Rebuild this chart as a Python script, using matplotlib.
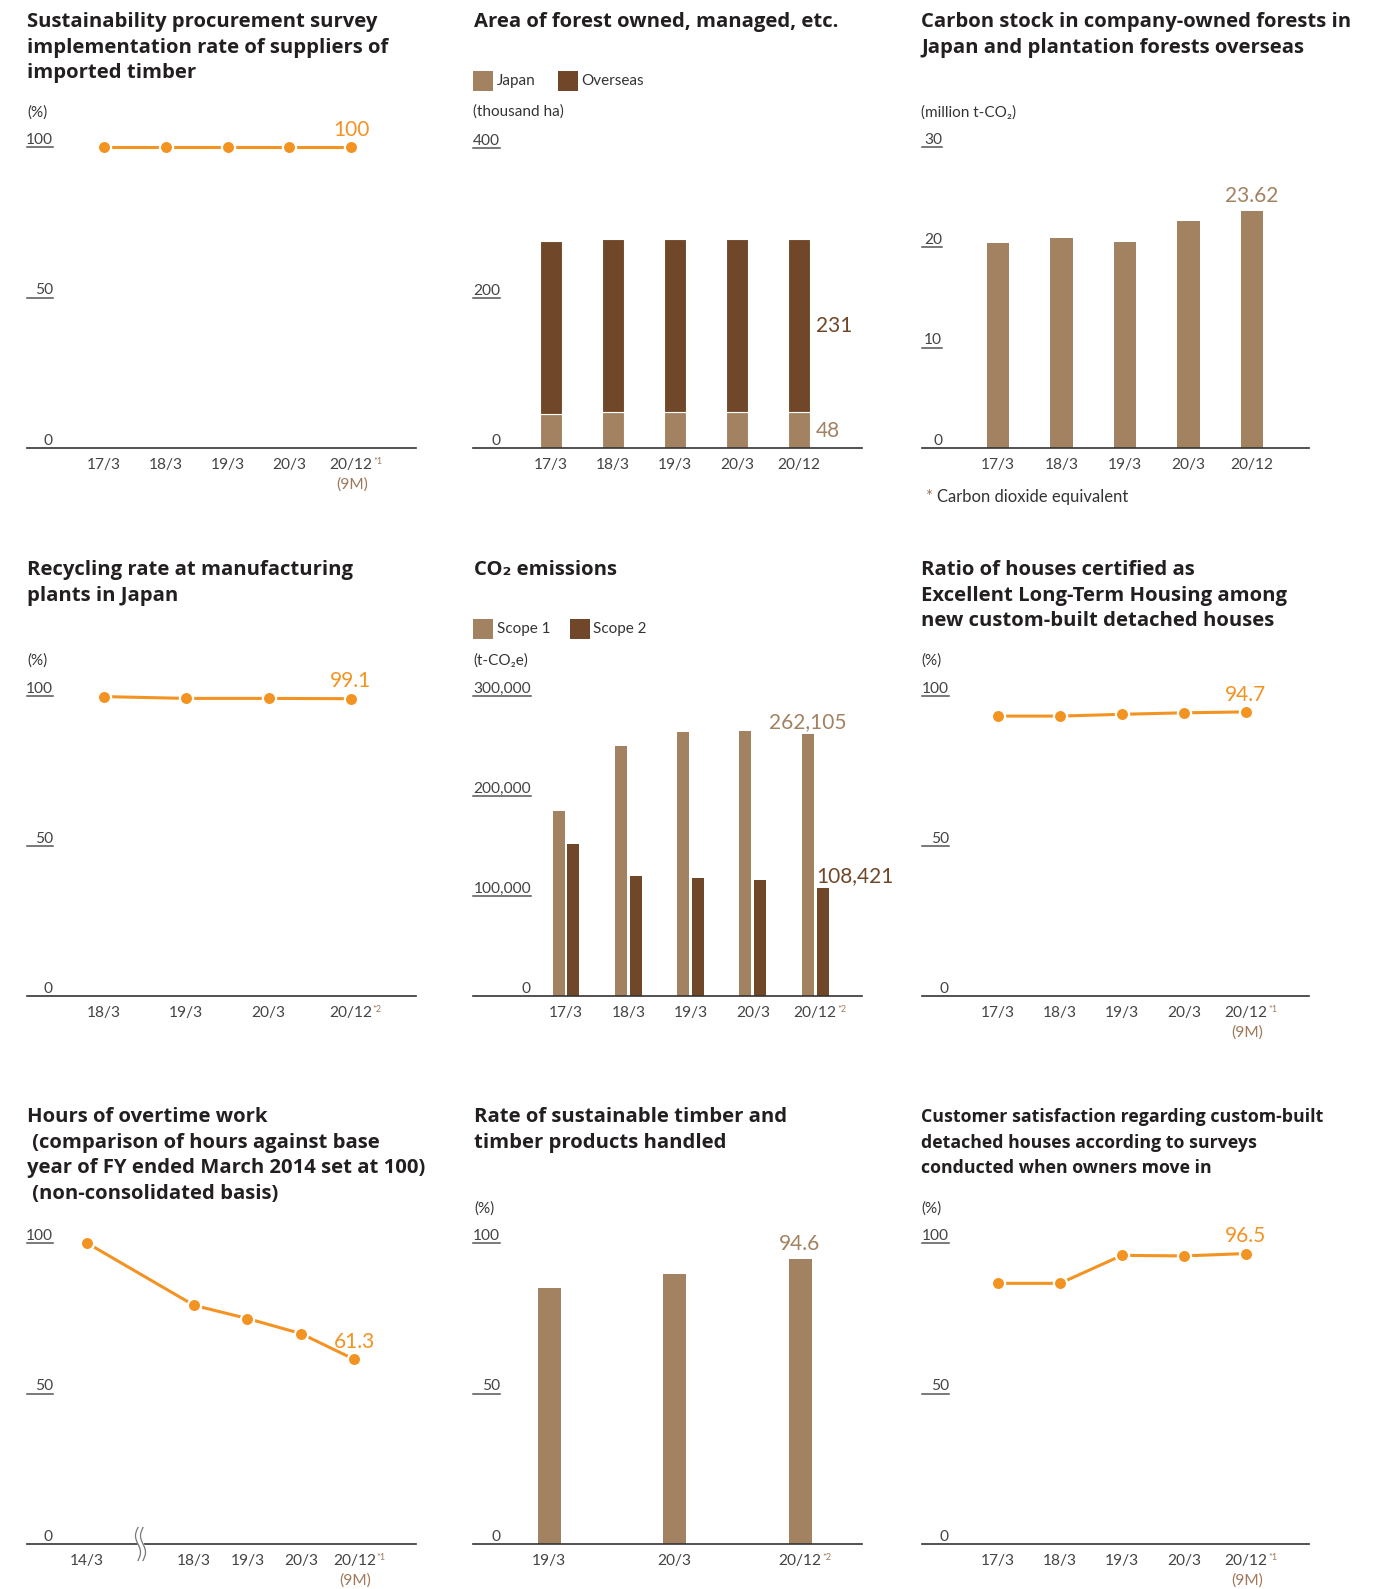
import numpy as np
import matplotlib
matplotlib.use('Agg')
import matplotlib.pyplot as plt
import matplotlib.transforms as mtrans
from matplotlib.patches import Rectangle

plt.rcParams['font.family'] = ['Lato', 'DejaVu Sans']

W, H = 1395, 1589
PT = 0.72  # points per pixel at dpi 100

ORANGE = '#F39322'
LIGHT = '#A38261'
DARK = '#71472A'
TXT = '#333333'
GREY = '#555555'
NOTE = '#A0785A'

# ---- данные ----
proc_cats = ['17/3', '18/3', '19/3', '20/3', '20/12']
proc_rate = [100, 100, 100, 100, 100]

forest_cats = ['17/3', '18/3', '19/3', '20/3', '20/12']
forest_japan = [46, 48, 48, 48, 48]
forest_overseas = [230, 231, 231, 231, 231]

carbon_cats = ['17/3', '18/3', '19/3', '20/3', '20/12']
carbon_stock = [20.4, 20.9, 20.5, 22.6, 23.62]

recycle_cats = ['18/3', '19/3', '20/3', '20/12']
recycle_rate = [99.8, 99.2, 99.2, 99.1]

co2_cats = ['17/3', '18/3', '19/3', '20/3', '20/12']
co2_scope1 = [185000, 250000, 264000, 265000, 262105]
co2_scope2 = [152000, 120000, 118000, 116000, 108421]

house_cats = ['17/3', '18/3', '19/3', '20/3', '20/12']
house_rate = [93.3, 93.3, 93.9, 94.4, 94.7]

overtime_cats = ['14/3', '18/3', '19/3', '20/3', '20/12']
overtime_pos = [0, 2, 3, 4, 5]
overtime_index = [100, 79.3, 74.9, 69.9, 61.3]

timber_cats = ['19/3', '20/3', '20/12']
timber_rate = [85.0, 89.7, 94.6]

satisf_cats = ['17/3', '18/3', '19/3', '20/3', '20/12']
satisf_rate = [86.6, 86.6, 95.9, 95.7, 96.5]

fig = plt.figure(figsize=(W / 100, H / 100), dpi=100)
fig.patch.set_facecolor('white')


def ftxt(x, y, s, **kw):
    kw.setdefault('va', 'center')
    kw.setdefault('ha', 'left')
    kw.setdefault('color', TXT)
    return fig.text(x / W, 1 - y / H, s, **kw)


def title(x, y0, lines, size=14.6):
    for i, ln in enumerate(lines):
        ftxt(x, y0 + 2 + i * 25.7, ln, fontsize=size, fontweight='bold', color='#231F20',
             family=['Open Sans', 'DejaVu Sans'])


def square(x, y, w, h, c):
    fig.add_artist(Rectangle((x / W, 1 - (y + h) / H), w / W, h / H,
                             transform=fig.transFigure, color=c, lw=0))


def make_ax(x0, x1, ytop, yzero, ymax, first, step):
    ax = fig.add_axes([x0 / W, 1 - yzero / H, (x1 - x0) / W, (yzero - ytop) / H])
    ax.set_ylim(0, ymax)
    ax.set_xlim((x0 - first) / step, (x1 - first) / step)
    for s in ['top', 'right', 'left']:
        ax.spines[s].set_visible(False)
    ax.spines['bottom'].set_color('#333333')
    ax.spines['bottom'].set_linewidth(1.2)
    ax.set_xticks([])
    ax.set_yticks([])
    ax.patch.set_alpha(0)
    return ax


def y_ticks(ax, ticks, width_px, ul_px, fmt=lambda v: f'{v:g}'):
    frac = ul_px / width_px
    tr = mtrans.blended_transform_factory(ax.transAxes, ax.transData)
    for t in ticks:
        ax.annotate(fmt(t), xy=(frac, t), xycoords=tr, xytext=(0, 2.5),
                    textcoords='offset points', ha='right', va='baseline',
                    fontsize=11.2, color='#444444', annotation_clip=False)
        if t > 0:
            ax.plot([0, frac], [t, t], transform=tr, color=GREY, lw=1.1, clip_on=False)


def x_labels(ax, xs, labels, sup=None, nine=False):
    for x, lab in zip(xs, labels):
        ax.annotate(lab, xy=(x, 0), xytext=(0, -17 * PT), textcoords='offset points',
                    ha='center', va='center', fontsize=11.2, color='#444444',
                    annotation_clip=False)
    if sup:
        ax.annotate(sup, xy=(xs[-1], 0), xytext=(22 * PT, -13 * PT), textcoords='offset points',
                    ha='left', va='center', fontsize=6.5, color=NOTE, annotation_clip=False)
    if nine:
        ax.annotate('(9M)', xy=(xs[-1], 0), xytext=(1 * PT, -37 * PT), textcoords='offset points',
                    ha='center', va='center', fontsize=11.2, color=NOTE, annotation_clip=False)


def value(ax, x, y, s, color, dx=0, dy=18, ha='center'):
    ax.annotate(s, xy=(x, y), xytext=(dx * PT, dy * PT), textcoords='offset points',
                ha=ha, va='center', fontsize=15, color=color, annotation_clip=False)


def orange_line(ax, xs, ys):
    ax.plot(xs, ys, color=ORANGE, lw=2.2, marker='o', ms=9.5, mfc=ORANGE,
            mec='white', mew=1.6, clip_on=False, zorder=3)


# ---- 1. закупки ----
title(27, 20, ['Sustainability procurement survey',
               'implementation rate of suppliers of',
               'imported timber'])
ftxt(27, 113, '(%)', fontsize=11)
ax = make_ax(27, 416, 147, 448, 100, 104, 61.8)
x = np.arange(len(proc_cats))
orange_line(ax, x, proc_rate)
y_ticks(ax, [0, 50, 100], 389, 26)
x_labels(ax, x, proc_cats, sup='*1', nine=True)
value(ax, x[-1], proc_rate[-1], '100', ORANGE, dy=17)

# ---- 2. площадь лесов ----
title(474, 20, ['Area of forest owned, managed, etc.'])
square(473, 71, 20, 20, LIGHT)
ftxt(497, 81, 'Japan', fontsize=11)
square(558, 71, 20, 20, DARK)
ftxt(581, 81, 'Overseas', fontsize=11)
ftxt(473, 112, '(thousand ha)', fontsize=11)
ax = make_ax(473, 862, 148, 448, 400, 551, 62)
x = np.arange(len(forest_cats))
ax.bar(x, forest_japan, width=0.37, color=LIGHT, edgecolor='white', linewidth=0.8)
ax.bar(x, forest_overseas, width=0.37, bottom=forest_japan, color=DARK,
       edgecolor='white', linewidth=0.8)
y_ticks(ax, [0, 200, 400], 389, 27)
x_labels(ax, x, forest_cats)
value(ax, x[-1], forest_japan[-1] + forest_overseas[-1] / 2, str(forest_overseas[-1]),
      DARK, dx=17, dy=-1, ha='left')
value(ax, x[-1], forest_japan[-1] / 2, str(forest_japan[-1]), LIGHT, dx=17, dy=-1, ha='left')

# ---- 3. запас углерода ----
title(921, 20, ['Carbon stock in company-owned forests in',
                'Japan and plantation forests overseas'])
ftxt(921, 113, '(million t-CO\u2082)', fontsize=11)
ax = make_ax(922, 1309, 147, 448, 30, 998, 63.5)
x = np.arange(len(carbon_cats))
ax.bar(x, carbon_stock, width=0.36, color=LIGHT)
y_ticks(ax, [0, 10, 20, 30], 387, 20)
x_labels(ax, x, carbon_cats)
value(ax, x[-1], carbon_stock[-1], f'{carbon_stock[-1]:.2f}', LIGHT, dy=15)
ftxt(925, 497, '*', fontsize=12, color=NOTE)
ftxt(937, 497, 'Carbon dioxide equivalent', fontsize=12)

# ---- 4. переработка ----
title(27, 568, ['Recycling rate at manufacturing', 'plants in Japan'])
ftxt(27, 661, '(%)', fontsize=11)
ax = make_ax(27, 416, 696, 996, 100, 104, 82.3)
x = np.arange(len(recycle_cats))
orange_line(ax, x, recycle_rate)
y_ticks(ax, [0, 50, 100], 389, 26)
x_labels(ax, x, recycle_cats, sup='*2')
value(ax, x[-1], recycle_rate[-1], f'{recycle_rate[-1]:.1f}', ORANGE, dy=18)

# ---- 5. выбросы CO2 ----
title(474, 568, ['CO\u2082 emissions'])
square(473, 619, 20, 20, LIGHT)
ftxt(497, 629, 'Scope 1', fontsize=11)
square(570, 619, 20, 20, DARK)
ftxt(593, 629, 'Scope 2', fontsize=11)
ftxt(473, 661, '(t-CO\u2082e)', fontsize=11)
ax = make_ax(473, 862, 696, 996, 300000, 566, 62.3)
x = np.arange(len(co2_cats))
bw = 12 / 62.3
ax.bar(x - 0.12, co2_scope1, width=bw, color=LIGHT)
ax.bar(x + 0.12, co2_scope2, width=bw, color=DARK)
y_ticks(ax, [0, 100000, 200000, 300000], 389, 58, fmt=lambda v: f'{int(v):,}')
x_labels(ax, x, co2_cats, sup='*2')
value(ax, x[-1] - 0.12, co2_scope1[-1], f'{co2_scope1[-1]:,}', LIGHT, dy=12)
value(ax, x[-1] + 0.12, co2_scope2[-1], f'{co2_scope2[-1]:,}', DARK, dx=-6, dy=11, ha='left')

# ---- 6. долговечное жильё ----
title(921, 568, ['Ratio of houses certified as',
                 'Excellent Long-Term Housing among',
                 'new custom-built detached houses'])
ftxt(921, 661, '(%)', fontsize=11)
ax = make_ax(922, 1309, 696, 996, 100, 998, 62)
x = np.arange(len(house_cats))
orange_line(ax, x, house_rate)
y_ticks(ax, [0, 50, 100], 387, 27)
x_labels(ax, x, house_cats, sup='*1', nine=True)
value(ax, x[-1], house_rate[-1], f'{house_rate[-1]:.1f}', ORANGE, dy=17)

# ---- 7. сверхурочные ----
title(27, 1115, ['Hours of overtime work',
                 ' (comparison of hours against base',
                 'year of FY ended March 2014 set at 100)',
                 ' (non-consolidated basis)'])
ax = make_ax(27, 416, 1243, 1544, 100, 87, 53.5)
orange_line(ax, overtime_pos, overtime_index)
y_ticks(ax, [0, 50, 100], 389, 26)
x_labels(ax, overtime_pos, overtime_cats, sup='*1', nine=True)
value(ax, overtime_pos[-1], overtime_index[-1], f'{overtime_index[-1]:.1f}', ORANGE, dy=17)
# знак разрыва оси
brk = fig.dpi_scale_trans + mtrans.ScaledTranslation(1, 0, ax.transData)
t = np.linspace(-1, 1, 40)
yy = -t * 0.165
xx = 0.025 * np.sin(np.pi * t)
ax.fill_betweenx(yy, xx - 0.025, xx + 0.025, transform=brk, color='white',
                 clip_on=False, zorder=4)
for off in (-0.025, 0.025):
    ax.plot(xx + off, yy, transform=brk, color='#777777', lw=0.9, clip_on=False, zorder=5)

# ---- 8. устойчивая древесина ----
title(474, 1115, ['Rate of sustainable timber and', 'timber products handled'])
ftxt(474, 1209, '(%)', fontsize=11)
ax = make_ax(473, 862, 1243, 1544, 100, 549, 125.5)
x = np.arange(len(timber_cats))
ax.bar(x, timber_rate, width=23 / 125.5, color=LIGHT)
y_ticks(ax, [0, 50, 100], 389, 27)
x_labels(ax, x, timber_cats, sup='*2')
value(ax, x[-1], timber_rate[-1], f'{timber_rate[-1]:.1f}', LIGHT, dy=15)

# ---- 9. удовлетворённость ----
title(921, 1115, ['Customer satisfaction regarding custom-built',
                  'detached houses according to surveys',
                  'conducted when owners move in'], size=12.8)
ftxt(921, 1209, '(%)', fontsize=11)
ax = make_ax(922, 1309, 1243, 1544, 100, 998, 62)
x = np.arange(len(satisf_cats))
orange_line(ax, x, satisf_rate)
y_ticks(ax, [0, 50, 100], 387, 27)
x_labels(ax, x, satisf_cats, sup='*1', nine=True)
value(ax, x[-1], satisf_rate[-1], f'{satisf_rate[-1]:.1f}', ORANGE, dy=18)

plt.savefig('out.png', dpi=100)
